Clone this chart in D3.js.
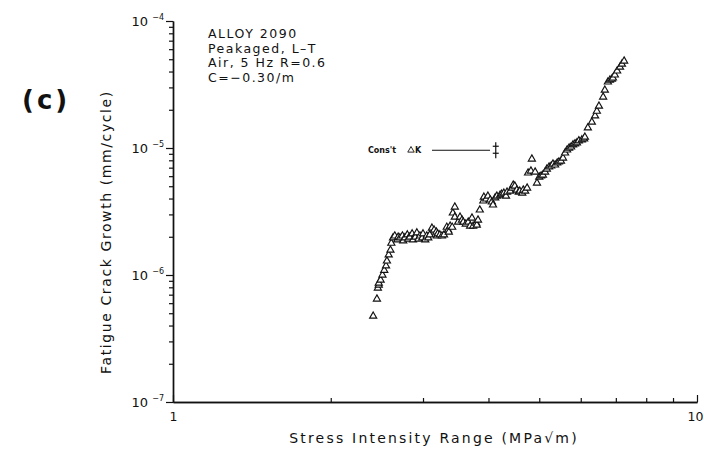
<!DOCTYPE html>
<html>
<head>
<meta charset="utf-8">
<script src="https://cdn.jsdelivr.net/npm/d3@7"></script>
<style>
  html, body { margin: 0; padding: 0; background: #fff; }
  svg { display: block; }
  text { font-family: "DejaVu Sans", "Liberation Sans", sans-serif; fill: #111; }
</style>
</head>
<body>
<svg id="chart" width="704" height="451"></svg>
<script>
// Stress intensity range, MPa·m^0.5
const deltaK = [
  2.41, 2.45, 2.46, 2.47, 2.47, 2.49, 2.51, 2.53, 2.55, 2.56, 2.58, 2.60, 2.61, 2.63,
  2.65, 2.68, 2.69, 2.71, 2.74, 2.75, 2.77, 2.80, 2.81, 2.83, 2.86, 2.87, 2.90, 2.92,
  2.94, 2.96, 2.99, 3.00, 3.03, 3.05, 3.07, 3.09,
  3.12, 3.15, 3.18, 3.19, 3.20, 3.23, 3.26, 3.29, 3.33, 3.35, 3.36, 3.38, 3.41,
  3.42, 3.45, 3.45, 3.50, 3.53, 3.56, 3.58, 3.62, 3.66, 3.69, 3.72, 3.74, 3.79, 3.80, 3.82, 3.85,
  3.91, 3.92, 3.96, 3.99, 4.03, 4.06, 4.08, 4.12, 4.15, 4.21, 4.24, 4.28, 4.32, 4.34, 4.40,
  4.44, 4.46, 4.49, 4.53, 4.57, 4.59, 4.64, 4.66, 4.70, 4.74,
  4.76, 4.84, 4.82, 4.91, 4.95, 5.00, 5.04, 5.08, 5.13, 5.17, 5.22, 5.27, 5.31, 5.36,
  5.41, 5.45, 5.50, 5.55, 5.60, 5.65, 5.70, 5.75, 5.80, 5.85, 5.90, 5.95, 6.03, 6.09, 6.11,
  6.19, 6.30, 6.39, 6.44, 6.50, 6.62, 6.67, 6.76, 6.82, 6.88, 6.91, 6.97, 7.04, 7.13, 7.19, 7.26
];

// Fatigue crack growth rate, mm/cycle
const growthRate = [
  4.75e-7, 6.47e-7, 7.9e-7, 8.34e-7, 8.65e-7, 9.13e-7, 1.0e-6, 1.09e-6, 1.18e-6, 1.29e-6, 1.44e-6, 1.57e-6, 1.78e-6, 1.96e-6,
  2.03e-6, 1.89e-6, 1.99e-6, 1.96e-6, 2.03e-6, 1.86e-6, 1.96e-6, 2.07e-6, 1.92e-6, 1.99e-6, 2.11e-6, 1.89e-6, 1.99e-6, 2.15e-6,
  1.92e-6, 2.03e-6, 1.96e-6, 2.11e-6, 1.89e-6, 2.03e-6, 1.96e-6, 2.07e-6,
  2.34e-6, 2.26e-6, 2.18e-6, 2.03e-6, 2.11e-6, 2.07e-6, 2.03e-6, 2.07e-6, 2.38e-6, 2.26e-6, 2.18e-6, 2.43e-6, 2.38e-6,
  3.08e-6, 3.43e-6, 2.86e-6, 2.61e-6, 2.86e-6, 2.71e-6, 2.61e-6, 2.52e-6, 2.61e-6, 2.43e-6, 2.81e-6, 2.43e-6, 2.56e-6, 2.47e-6, 2.71e-6, 3.25e-6,
  3.83e-6, 4.11e-6, 3.97e-6, 4.18e-6, 3.90e-6, 3.76e-6, 3.56e-6, 4.05e-6, 4.18e-6, 4.26e-6, 4.34e-6, 4.42e-6, 4.18e-6, 4.50e-6, 4.58e-6,
  4.84e-6, 5.11e-6, 5.02e-6, 4.67e-6, 4.50e-6, 4.58e-6, 4.42e-6, 4.67e-6, 4.58e-6, 4.84e-6,
  6.36e-6, 8.19e-6, 6.59e-6, 6.47e-6, 5.30e-6, 5.91e-6, 6.02e-6, 6.13e-6, 6.47e-6, 6.83e-6, 7.09e-6, 7.22e-6, 7.48e-6, 7.35e-6,
  7.62e-6, 7.76e-6, 7.90e-6, 8.34e-6, 9.14e-6, 9.65e-6, 1.00e-5, 1.02e-5, 1.06e-5, 1.08e-5, 1.10e-5, 1.14e-5, 1.16e-5, 1.18e-5, 1.22e-5,
  1.44e-5, 1.60e-5, 1.79e-5, 1.95e-5, 2.14e-5, 2.52e-5, 2.86e-5, 3.31e-5, 3.43e-5, 3.49e-5, 3.56e-5, 3.76e-5, 4.04e-5, 4.34e-5, 4.58e-5, 4.84e-5
];

// Axis ranges and labelled decades
const xDomain = [1, 10];
const yDomain = [1e-7, 1e-4];
const xTickLabels = ["1", "10"];
const yDecadeExponents = [-7, -6, -5, -4];

// Test condition notes
const noteLines = ["ALLOY 2090", "Peakaged, L\u2013T", "Air, 5 Hz  R=0.6", "C=\u22120.30/m"];

// Constant-ΔK marker position (ΔK, rate)
const constDK = [4.13, 9.6e-6];

const svg = d3.select("#chart");

const x = d3.scaleLog().domain(xDomain).range([173, 697]);
const y = d3.scaleLog().domain(yDomain).range([402, 21]);

const ink = "#111";

// Minor and major tick positions
const xMinor = [];
for (let k = 2; k <= 9; k++) xMinor.push(k);
const yMinor = [];
for (let e = -7; e < -4; e++) for (let k = 2; k <= 9; k++) yMinor.push(k * Math.pow(10, e));
const yMajor = yDecadeExponents.map(e => Math.pow(10, e));

// Y axis: ticks point left
const gy = svg.append("g").attr("transform", `translate(${x(1)},0)`);
gy.call(d3.axisLeft(y).tickValues(yMinor).tickSize(4).tickSizeOuter(0).tickFormat(""));
gy.append("g").call(d3.axisLeft(y).tickValues(yMajor).tickSize(7).tickSizeOuter(0).tickFormat(""));
gy.selectAll("path.domain").attr("stroke", ink).attr("stroke-width", 1.4);
gy.selectAll(".tick line").attr("stroke", ink).attr("stroke-width", 1.2);

// Decade labels with superscript exponents
yDecadeExponents.forEach(e => {
  const t = svg.append("text")
    .attr("x", x(1) - 9)
    .attr("y", y(Math.pow(10, e)) + 5)
    .attr("text-anchor", "end")
    .attr("font-size", 13)
    .attr("fill", "#222");
  t.append("tspan").text("10 ");
  t.append("tspan").attr("font-size", 8).attr("dy", -6).text("\u2212" + Math.abs(e));
});

// X axis: ticks point up
const gx = svg.append("g").attr("transform", `translate(0,${y(1e-7)})`);
gx.call(d3.axisBottom(x).tickValues(xMinor).tickSize(-4).tickSizeOuter(0).tickFormat(""));
gx.append("g").call(d3.axisBottom(x).tickValues([1, 10]).tickSize(-7).tickSizeOuter(0)
  .tickPadding(10).tickFormat((d, i) => xTickLabels[i]));
gx.selectAll("path.domain").attr("stroke", ink).attr("stroke-width", 1.4);
gx.selectAll(".tick line").attr("stroke", ink).attr("stroke-width", 1.2);
gx.selectAll(".tick text").attr("font-size", 12.5).attr("fill", "#222")
  .attr("font-family", "DejaVu Sans, sans-serif");
// keep the right-hand decade label inside the frame
gx.selectAll(".tick text").filter(d => d === 10).attr("text-anchor", "end").attr("dx", 6);

// Axis titles
svg.append("text")
  .attr("x", 434).attr("y", 443)
  .attr("text-anchor", "middle")
  .attr("font-size", 14)
  .attr("letter-spacing", 2.2)
  .attr("fill", "#333")
  .text("Stress Intensity Range (MPa\u221Am)");

svg.append("text")
  .attr("transform", "translate(111,232) rotate(-90)")
  .attr("text-anchor", "middle")
  .attr("font-size", 14)
  .attr("letter-spacing", 1.6)
  .attr("fill", "#333")
  .text("Fatigue Crack Growth (mm/cycle)");

// Panel letter
svg.append("text")
  .attr("x", 22).attr("y", 109)
  .attr("font-size", 26)
  .attr("font-weight", "bold")
  .attr("letter-spacing", 3)
  .text("(c)");

// Condition notes
svg.append("g").selectAll("text").data(noteLines).join("text")
  .attr("x", 208)
  .attr("y", (d, i) => 38 + i * 14.5)
  .attr("font-size", 12.5)
  .attr("letter-spacing", 1.5)
  .attr("fill", "#222")
  .text(d => d);

// Data markers: open triangles
const pts = deltaK.map((k, i) => [k, growthRate[i]]);
svg.append("g").selectAll("path").data(pts).join("path")
  .attr("transform", d => `translate(${x(d[0])},${y(d[1])})`)
  .attr("d", d3.symbol().type(d3.symbolTriangle).size(22))
  .attr("fill", "#fff")
  .attr("stroke", ink)
  .attr("stroke-width", 1.15);

// Constant-ΔK annotation
const cx = x(constDK[0]), cy = y(constDK[1]);
svg.append("text")
  .attr("x", 368).attr("y", cy + 3)
  .attr("font-size", 8)
  .attr("font-weight", "bold")
  .text("Cons't");
svg.append("path")
  .attr("transform", `translate(411,${cy})`)
  .attr("d", d3.symbol().type(d3.symbolTriangle).size(18))
  .attr("fill", "none").attr("stroke", ink).attr("stroke-width", 0.9);
svg.append("text")
  .attr("x", 415).attr("y", cy + 3)
  .attr("font-size", 8)
  .attr("font-weight", "bold")
  .text("K");
svg.append("line")
  .attr("x1", 432).attr("x2", 490).attr("y1", cy).attr("y2", cy)
  .attr("stroke", ink).attr("stroke-width", 1);
const bar = svg.append("g").attr("transform", `translate(${cx},${cy})`).attr("stroke", ink);
bar.append("line").attr("y1", -8).attr("y2", 8).attr("stroke-width", 1.2);
bar.append("line").attr("x1", -3).attr("x2", 3).attr("y1", -4).attr("y2", -4).attr("stroke-width", 1.2);
bar.append("line").attr("x1", -3).attr("x2", 3).attr("y1", 3).attr("y2", 3).attr("stroke-width", 1.2);
</script>
</body>
</html>
